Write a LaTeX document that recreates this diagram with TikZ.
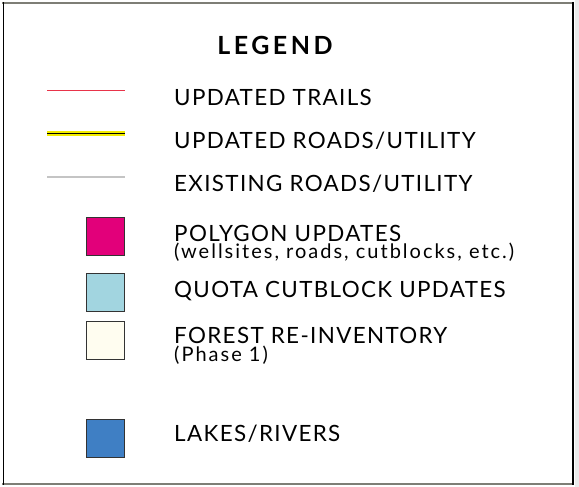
\documentclass[tikz,border=0pt]{standalone}
\usepackage{fontspec}
\setmainfont{Lato}[LetterSpace=6]
\usepackage{tikz}

\definecolor{trailred}{HTML}{E8344A}
\definecolor{roadyellow}{HTML}{F2EC00}
\definecolor{roadgray}{HTML}{C4C4C4}
\definecolor{polymag}{HTML}{E2007A}
\definecolor{quotacyan}{HTML}{A2D5E0}
\definecolor{forestcream}{HTML}{FFFDF0}
\definecolor{lakeblue}{HTML}{3F7FC4}
\definecolor{framegray}{HTML}{7E7E76}

\tikzset{
  swatch/.style={draw=black!80, line width=0.8pt, minimum size=38pt, inner sep=0pt, anchor=north west},
  legtext/.style={anchor=base west, inner sep=0pt, font=\fontsize{22.4}{24}\selectfont},
  subtext/.style={anchor=base west, inner sep=0pt, text height=14pt, text depth=4pt, font=\fontsize{20}{22}\selectfont\addfontfeatures{LetterSpace=10}},
}

\begin{document}
\begin{tikzpicture}[x=1pt, y=-1pt]
        \useasboundingbox (0,0) rectangle (579,487);
        \fill[black!8] (575,0) rectangle (579,487);

        % Frame
        \draw[framegray, line width=2.5pt] (2,3) -- (574,3);
        \draw[framegray, line width=2pt] (2,484) -- (574,484);
        \draw[black, line width=1.5pt] (3.5,2) -- (3.5,485);
        \draw[black, line width=1.5pt] (573,2) -- (573,485);

        % Title
        \node at (275,54.5) [anchor=base, inner sep=0pt, font=\fontsize{25}{28}\selectfont\bfseries\addfontfeatures{LetterSpace=14}] (title) {LEGEND};

        % Line symbols
        \coordinate (trailA) at (47,90.5);
        \coordinate (trailB) at (125,90.5);
        \draw[trailred, line width=1.2pt] (trailA) -- (trailB);

        \coordinate (roadA) at (47,133.5);
        \coordinate (roadB) at (125,133.5);
        \draw[roadyellow, line width=4.5pt] (roadA) -- (roadB);
        \draw[black, line width=1.4pt] (roadA) -- (roadB);

        \coordinate (existA) at (47,177);
        \coordinate (existB) at (125,177);
        \draw[roadgray, line width=1.4pt] (existA) -- (existB);

        % Area symbols
        \node at (86,217) [swatch, fill=polymag] (poly) {};
        \node at (86,273) [swatch, fill=quotacyan] (quota) {};
        \node at (86,321) [swatch, fill=forestcream] (forest) {};
        \node at (86,419) [swatch, fill=lakeblue] (lakes) {};

        % Labels
        \node at (174,105.5) [legtext] (trailtxt) {UPDATED TRAILS};
        \node at (174,148.5) [legtext] (roadtxt) {UPDATED ROADS/UTILITY};
        \node at (174,191.5) [legtext] (existtxt) {EXISTING ROADS/UTILITY};
        \node at (174,241) [legtext] (polytxt) {POLYGON UPDATES};
        \node at (174,258.5) [subtext] (polysub) {(wellsites, roads, cutblocks, etc.)};
        \node at (174,297) [legtext] (quotatxt) {QUOTA CUTBLOCK UPDATES};
        \node at (174,343.5) [legtext] (foresttxt) {FOREST RE-INVENTORY};
        \node at (174,361) [subtext] (forestsub) {(Phase 1)};
        \node at (174,441.5) [legtext] (lakestxt) {LAKES/RIVERS};

    \end{tikzpicture}
\end{document}
